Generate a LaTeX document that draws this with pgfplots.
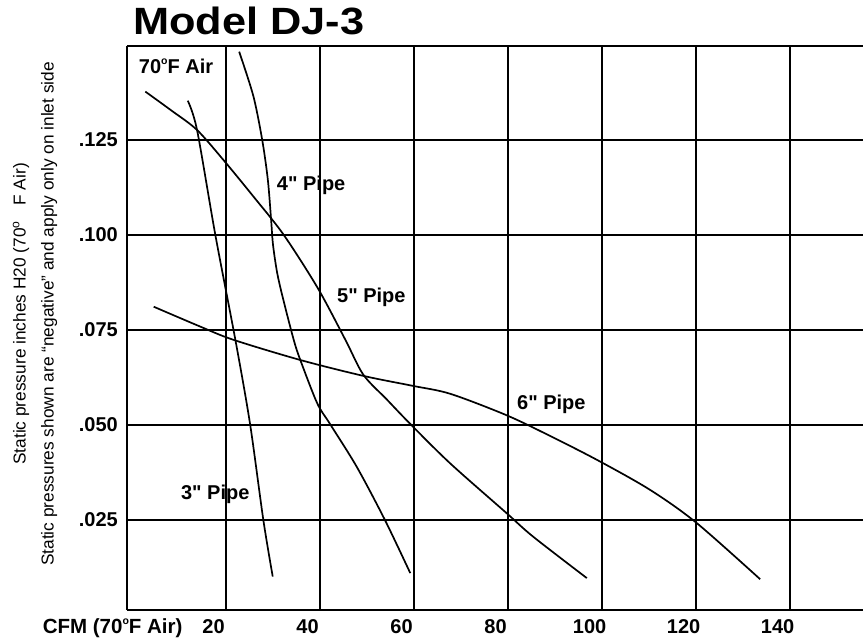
\documentclass[border=0pt]{standalone}
\usepackage{fontspec}
\setmainfont{Liberation Sans}
\newfontfamily\lblfont{Liberation Sans}
\usepackage{graphicx}
\usepackage{pgfplots}
\pgfplotsset{compat=1.18}
\pgfplotsset{every non boxed y axis/.style={}, every non boxed x axis/.style={}}
\newcommand\degsup{\raisebox{9pt}{\fontsize{10.5}{10.5}\selectfont\bfseries o}}
\begin{document}
\begin{tikzpicture}
\begin{axis}[
  scale only axis, width=736pt, height=564pt,
  xmin=-0.96, xmax=155.6, ymin=0.0013, ymax=0.1497,
  enlargelimits=false,
  axis x line=box, axis y line=left,
  axis line style={line width=2.2pt, black, -},
  xtick={20,40,60,80,100,120,140},
  xticklabels={20,40,60,80,100,120,140},
  ytick={0.025,0.05,0.075,0.1,0.125},
  yticklabels={.025,.050,.075,.100,.125},
  major tick length=0pt,
  grid=major, major grid style={line width=2pt, black},
  /pgf/number format/assume math mode=true,
  tick label style={font=\fontsize{20}{24}\selectfont\bfseries, inner sep=0pt},
  xticklabel style={anchor=base, yshift=-23pt, xshift=-12pt},
  yticklabel style={anchor=east, xshift=-9pt},
  clip=false,
]
% 3" Pipe
\addplot[black, line width=1.7pt, smooth] coordinates {(11.96,0.1353) (13.94,0.1276) (17.83,0.1000) (22.09,0.0724) (25.21,0.0503) (28.04,0.0250) (30.04,0.0101)};
% 4" Pipe
\addplot[black, line width=1.7pt, smooth] coordinates {(22.9,0.1482) (25.9,0.1366) (27.8,0.1250) (29.0,0.1145) (29.7,0.1039) (30.1,0.0974) (31.0,0.0899) (32.3,0.0829) (34.5,0.0724) (35.9,0.0671) (39.5,0.0557) (42.2,0.0503) (47.9,0.0390) (53.9,0.0250) (59.3,0.0110)};
% 5" Pipe
\addplot[black, line width=1.7pt, smooth] coordinates {(2.94,0.1377) (8.40,0.1328) (13.94,0.1276) (19.83,0.1193) (26.06,0.1099) (32.38,0.1000) (39.62,0.0860) (45.49,0.0724) (49.32,0.0632) (54.30,0.0567) (59.26,0.0503) (67.77,0.0399) (79.68,0.0269) (85.43,0.0206) (96.85,0.0097)};
% 6" Pipe
\addplot[black, line width=1.7pt, smooth] coordinates {(4.72,0.0811) (14.57,0.0759) (21.66,0.0724) (35.85,0.0671) (49.32,0.0629) (59.74,0.0603) (67.77,0.0582) (79.68,0.0526) (89.04,0.0471) (99.32,0.0406) (110.32,0.0329) (120.11,0.0243) (133.72,0.0094)};

\begin{scope}[every node/.style={anchor=base west, inner sep=0pt, font=\fontsize{20}{24}\lblfont\bfseries}]
\node at (axis cs:30.9,0.1118) {4" Pipe};
\node at (axis cs:43.7,0.0822) {5" Pipe};
\node at (axis cs:82.0,0.0541) {6" Pipe};
\node at (axis cs:10.5,0.0303) {3" Pipe};
\node at (axis cs:1.53,0.1425) {70\degsup F Air};
\end{scope}
\node[anchor=base east, inner sep=0pt, font=\fontsize{20.5}{24}\selectfont\bfseries, xshift=55.7pt, yshift=-23pt] at (rel axis cs:0,0) {CFM (70\degsup F Air)};
\node[anchor=base west, inner sep=0pt, font=\fontsize{38}{44}\selectfont\bfseries, xshift=6pt, yshift=11pt] at (rel axis cs:0,1) {\scalebox{1.14}[1]{Model DJ-3}};
\node[rotate=90, align=center, inner sep=0pt, font=\fontsize{17.3}{28}\selectfont] at (axis description cs:-0.125,0.525) {Static pressure inches H20 (70\textsuperscript{o}\hspace{0.9em}F Air)\\Static pressures shown are “negative” and apply only on inlet side};
\end{axis}
\pgfresetboundingbox
\path[use as bounding box] ([xshift=-127pt,yshift=-30pt]current axis.south west) rectangle ([yshift=46pt]current axis.north east);
\end{tikzpicture}
\end{document}
